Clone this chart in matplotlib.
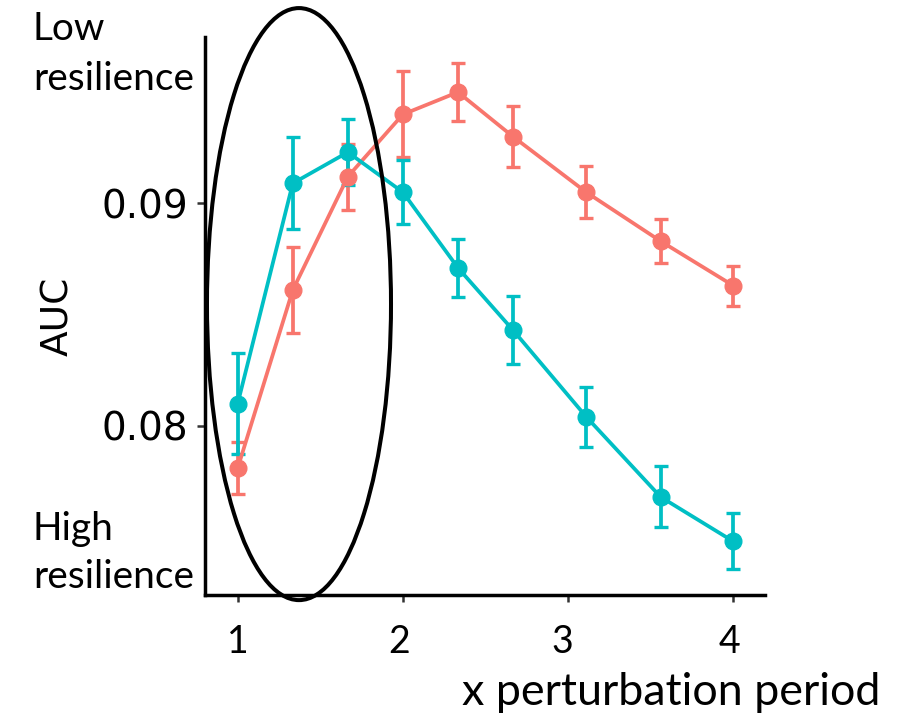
import matplotlib
matplotlib.use("Agg")
import matplotlib.pyplot as plt
from matplotlib.patches import Ellipse
from matplotlib.transforms import ScaledTranslation

# Perturbation period (x) for both groups
periods = [1, 4/3, 5/3, 2, 7/3, 8/3, 3.11, 3.56, 4]

# Mean AUC and error half-widths per group
auc_red = [0.0781, 0.0861, 0.0912, 0.0940, 0.0950, 0.0930, 0.0905, 0.0883, 0.0863]
err_red = [0.00115, 0.00193, 0.00148, 0.00193, 0.00129, 0.00137, 0.00117, 0.00099, 0.00090]
auc_teal = [0.0810, 0.0909, 0.0923, 0.0905, 0.0871, 0.0843, 0.0804, 0.0768, 0.0748]
err_teal = [0.00229, 0.00207, 0.00148, 0.00144, 0.00130, 0.00152, 0.00134, 0.00137, 0.00126]

y_ticks = [0.08, 0.09]
y_ticklabels = ["0.08", "0.09"]
x_ticks = [1, 2, 3, 4]
x_ticklabels = ["1", "2", "3", "4"]

RED = "#F8766D"
TEAL = "#00BFC4"
W, H = 910, 715

fig = plt.figure(figsize=(W / 100, H / 100), dpi=100)
ax = fig.add_axes([205 / W, (H - 595) / H, 560 / W, 558 / H])

for y, e, c in [(auc_red, err_red, RED), (auc_teal, err_teal, TEAL)]:
    ax.errorbar(periods, y, yerr=e, color=c, lw=2.7, marker="o", ms=12,
                elinewidth=2.7, capsize=4.8, capthick=2.4, zorder=3)

ax.set_xlim(0.802, 4.192)
ax.set_ylim(0.07239, 0.09748)

for s in ["top", "right"]:
    ax.spines[s].set_visible(False)
for s in ["left", "bottom"]:
    ax.spines[s].set_linewidth(2.5)
    ax.spines[s].set_color("black")

ax.set_yticks(y_ticks)
ax.set_yticklabels(y_ticklabels, fontsize=28, family="DejaVu Sans")
ax.tick_params(axis="y", length=6, width=1.8, color="#333333", pad=6)

ax.set_xticks(x_ticks)
ax.set_xticklabels(x_ticklabels, fontsize=27, family="Lato")
ax.tick_params(axis="x", length=5, width=1.8, color="#333333", pad=16)
# small horizontal nudges of the x tick labels (in points)
for lab, dx in zip(ax.get_xticklabels(), [0, -3, -4, -3]):
    lab.set_transform(lab.get_transform() + ScaledTranslation(dx / 72, 0, fig.dpi_scale_trans))

ax.set_ylabel("AUC", fontsize=27, family="DejaVu Sans", va="center")
ax.yaxis.set_label_coords(-0.2625, 0.5)

# Highlight ellipse around the short periods
ell = Ellipse((1.371, 0.08547), width=1.114, height=0.02662, fill=False,
              edgecolor="black", lw=2.9, clip_on=False, zorder=5)
ax.add_patch(ell)

tfont = dict(family="Lato", fontsize=28, color="black", ha="left", va="baseline")
fig.text(33 / W, 1 - 40 / H, "Low", **tfont)
fig.text(33 / W, 1 - 90 / H, "resilience", **tfont)
fig.text(33 / W, 1 - 540 / H, "High", **tfont)
fig.text(33 / W, 1 - 588 / H, "resilience", **tfont)
fig.text(462 / W, 1 - 705 / H, "x perturbation period",
         **{**tfont, "fontsize": 32.3})

fig.savefig("out.png", dpi=100)
